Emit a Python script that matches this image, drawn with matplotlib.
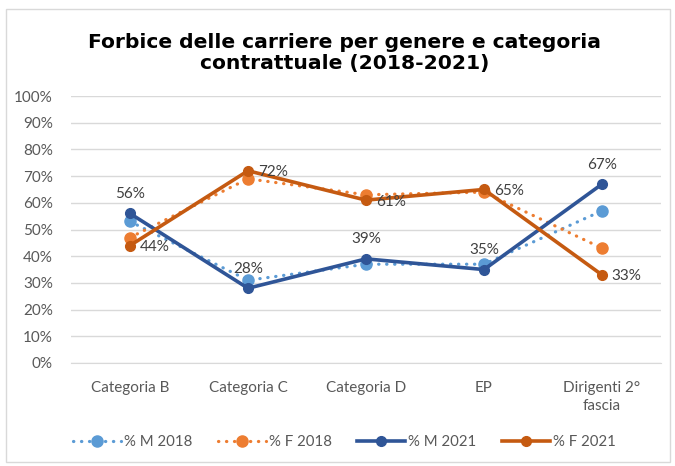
import matplotlib.pyplot as plt
from matplotlib.ticker import PercentFormatter
from matplotlib.patches import Rectangle

categorie = ["Categoria B", "Categoria C", "Categoria D", "EP", "Dirigenti 2°\nfascia"]
m_2018 = [53, 31, 37, 37, 57]
f_2018 = [47, 69, 63, 64, 43]
m_2021 = [56, 28, 39, 35, 67]
f_2021 = [44, 72, 61, 65, 33]

plt.rcParams["font.family"] = ["Lato", "DejaVu Sans"]

fig = plt.figure(figsize=(6.75, 4.66), dpi=100)
ax = fig.add_axes([71 / 675, 1 - 363 / 466, 590 / 675, 267 / 466])

# bordo del grafico
fig.patches.append(Rectangle((6 / 675, 4 / 466), 664 / 675, 453 / 466,
                             transform=fig.transFigure, fill=False,
                             edgecolor="#D9D9D9", linewidth=1))

x = list(range(len(categorie)))

ax.plot(x, m_2018, color="#5B9BD5", linewidth=2.3, linestyle=(0, (0.1, 2.4)),
        dash_capstyle="round", marker="o", markersize=8, label="% M 2018")
ax.plot(x, f_2018, color="#ED7D31", linewidth=2.3, linestyle=(0, (0.1, 2.4)),
        dash_capstyle="round", marker="o", markersize=8, label="% F 2018")
ax.plot(x, m_2021, color="#2F5597", linewidth=2.6, marker="o", markersize=7,
        label="% M 2021")
ax.plot(x, f_2021, color="#C55A11", linewidth=2.6, marker="o", markersize=7,
        label="% F 2021")

for i, v in enumerate(m_2021):
    ax.annotate(f"{v}%", (i, v), xytext=(0, 9), textcoords="offset points",
                ha="center", va="bottom", fontsize=11, color="#404040")
for i, v in enumerate(f_2021):
    ax.annotate(f"{v}%", (i, v), xytext=(7, -1), textcoords="offset points",
                ha="left", va="center", fontsize=11, color="#404040")

ax.set_xlim(-0.5, len(categorie) - 0.5)
ax.set_ylim(0, 100)
ax.set_yticks(range(0, 101, 10))
ax.yaxis.set_major_formatter(PercentFormatter(decimals=0))
ax.set_xticks(x)
ax.set_xticklabels(categorie, linespacing=1.4)
ax.grid(axis="y", color="#D9D9D9", linewidth=1)
ax.set_axisbelow(True)
for s in ["top", "right", "left"]:
    ax.spines[s].set_visible(False)
ax.spines["bottom"].set_color("#D9D9D9")
ax.tick_params(axis="both", length=0, labelsize=11, colors="#595959")
ax.tick_params(axis="x", pad=13)
ax.tick_params(axis="y", pad=13)

fig.suptitle("Forbice delle carriere per genere e categoria\ncontrattuale (2018-2021)",
             x=0.511, y=0.93, fontsize=14.6, fontweight="bold", family="DejaVu Sans",
             linespacing=1.15)

leg = fig.legend(loc="center", bbox_to_anchor=(0.51, 1 - 442 / 466), ncol=4,
                 frameon=False, fontsize=10.8, handlelength=3.2, columnspacing=1.7,
                 handletextpad=0.2)
for t in leg.get_texts():
    t.set_color("#595959")

fig.savefig("out.png", dpi=100)
